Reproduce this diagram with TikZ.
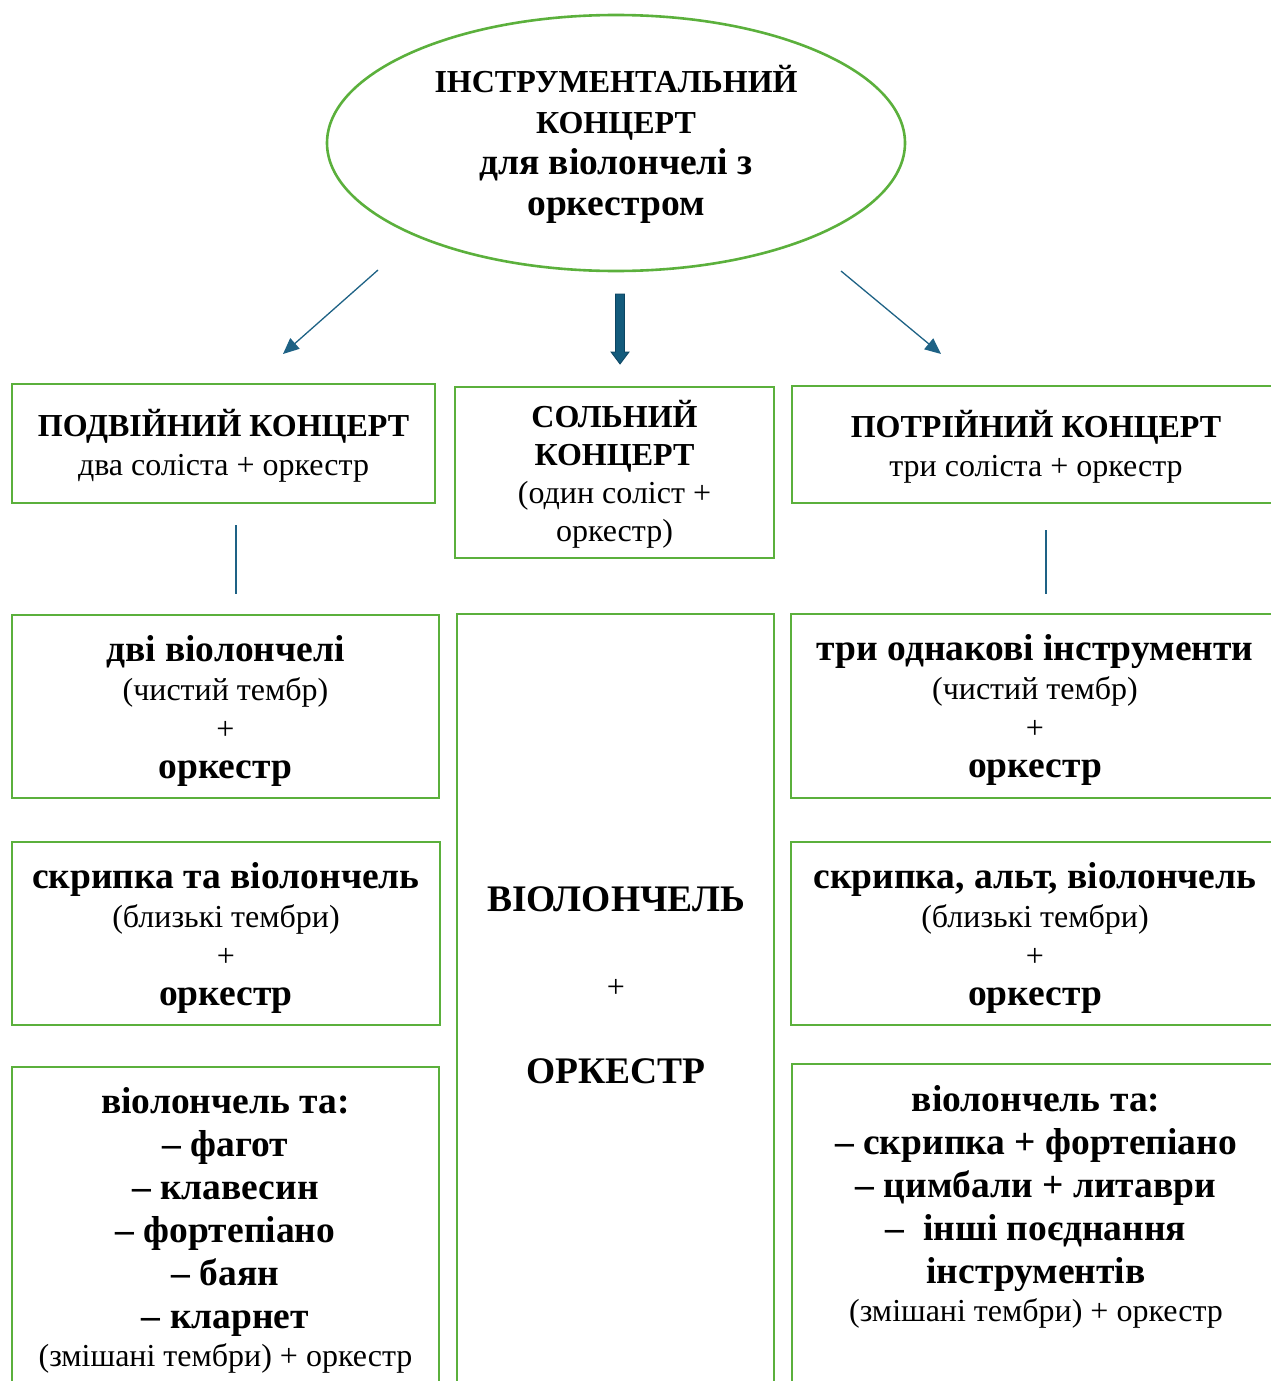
\documentclass[tikz,border=0pt]{standalone}
\usepackage{fontspec}
\setmainfont{Liberation Serif}
\usetikzlibrary{arrows.meta,shapes.geometric,calc}
\definecolor{grn}{HTML}{5BB03C}
\definecolor{arr}{HTML}{1E6285}
\definecolor{arrfill}{HTML}{135B7C}
\definecolor{arrdark}{HTML}{0C4461}
\lineskiplimit=-30pt
\begin{document}
\begin{tikzpicture}[x=1pt,y=-1pt,
  box/.style={draw=grn,line width=2.6pt,rectangle,inner sep=0pt},
  txt/.style={align=center,inner sep=0pt},
  thinarrow/.style={draw=arr,line width=1.3pt,-{Triangle[length=16pt,width=14pt]}},
  vline/.style={draw=arr,line width=1.3pt},
  fa/.style={font=\fontsize{32}{39}\selectfont}
]
\newcommand{\bigb}[1]{{\fontsize{37.5}{39}\selectfont\bfseries #1}}
\newcommand{\bige}[1]{{\fontsize{37.5}{41}\selectfont\bfseries #1}}
\useasboundingbox (0,0) rectangle (1271,1381);
\clip (0,0) rectangle (1271,1381);

% ellipse
\node[ellipse,draw=grn,line width=2.6pt,minimum width=578pt,minimum height=256pt,inner sep=0pt] (top) at (616,143) {};
\node[txt,font=\fontsize{32}{41}\selectfont\bfseries] (topt) at ($(top.center)+(0,1)$)
  {ІНСТРУМЕНТАЛЬНИЙ\\КОНЦЕРТ\\\bige{для віолончелі з}\\\bige{оркестром}};

% top row boxes
\node[box,minimum width=423pt,minimum height=119pt] (b1) at (223.5,443.5) {};
\node[txt,fa] (b1t) at ($(b1.center)+(0,2)$)
  {\textbf{ПОДВІЙНИЙ КОНЦЕРТ}\\два соліста + оркестр};
\node[box,minimum width=319pt,minimum height=171pt] (b2) at (614.5,472.5) {};
\node[txt,fa] (b2t) at ($(b2.center)+(0,2)$)
  {\textbf{СОЛЬНИЙ}\\[-1pt]\textbf{КОНЦЕРТ}\\[-1pt](один соліст +\\[-1pt]оркестр)};
\node[box,minimum width=488pt,minimum height=117pt] (b3) at (1036,444.5) {};
\node[txt,fa] (b3t) at ($(b3.center)+(0,2)$)
  {\textbf{ПОТРІЙНИЙ КОНЦЕРТ}\\три соліста + оркестр};

% arrows
\coordinate (la1) at (378,270);
\coordinate (la2) at (283,354);
\coordinate (ra1) at (841,271);
\coordinate (ra2) at (941,354);
\coordinate (ma) at (620,294);
\coordinate (mb) at (620,364);
\draw[thinarrow] (la1) -- (la2);
\draw[thinarrow] (ra1) -- (ra2);
\draw[draw=arrdark,fill=arrfill,line width=0.8pt,line join=miter]
  ($(ma)+(-4.5,0)$) -- ($(ma)+(4.5,0)$) -- ($(mb)+(4.5,-12)$) -- ($(mb)+(9,-12)$) --
  (mb) -- ($(mb)+(-9,-12)$) -- ($(mb)+(-4.5,-12)$) -- cycle;

% vertical lines
\coordinate (lv1) at (236,525);
\coordinate (lv2) at (236,594);
\coordinate (rv1) at (1046,530);
\coordinate (rv2) at (1046,594);
\draw[vline] (lv1) -- (lv2);
\draw[vline] (rv1) -- (rv2);

% second row
\node[box,minimum width=427pt,minimum height=183pt] (l2) at (225.5,706.5) {};
\node[txt,fa] (l2t) at ($(l2.center)+(0,4)$)
  {\bigb{дві віолончелі}\\(чистий тембр)\\+\\\bigb{оркестр}};
\node[box,minimum width=488pt,minimum height=184pt] (r2) at (1035,706) {};
\node[txt,fa] (r2t) at ($(r2.center)+(0,4)$)
  {\bigb{три однакові інструменти}\\(чистий тембр)\\+\\\bigb{оркестр}};

% third row
\node[box,minimum width=428pt,minimum height=183pt] (l3) at (226,933.5) {};
\node[txt,fa] (l3t) at ($(l3.center)+(0,4)$)
  {\bigb{скрипка та віолончель}\\(близькі тембри)\\+\\\bigb{оркестр}};
\node[box,minimum width=488pt,minimum height=183pt] (r3) at (1035,933.5) {};
\node[txt,fa] (r3t) at ($(r3.center)+(0,4)$)
  {\bigb{скрипка, альт, віолончель}\\(близькі тембри)\\+\\\bigb{оркестр}};

% middle column
\node[box,minimum width=317pt,minimum height=806pt] (mid) at (615.5,1017) {};
\node[txt,font=\fontsize{37.5}{86}\selectfont] (midt) at (616,985)
  {\textbf{ВІОЛОНЧЕЛЬ}\\{\fontsize{32}{86}\selectfont +}\\\textbf{ОРКЕСТР}};

% fourth row
\node[box,minimum width=427pt,minimum height=324pt] (l4) at (225.5,1229) {};
\node[txt,font=\fontsize{37.5}{43}\selectfont\bfseries] (l4t) at (225.5,1230)
  {віолончель та:\\– фагот\\– клавесин\\– фортепіано\\– баян\\– кларнет\\[-5pt]{\normalfont\fontsize{32}{43}\selectfont(змішані тембри) + оркестр}};
\node[box,minimum width=488pt,minimum height=356pt] (r4) at (1036,1242) {};
\node[txt,font=\fontsize{37.5}{43}\selectfont\bfseries] (r4t) at (1036,1207)
  {віолончель та:\\– скрипка + фортепіано\\– цимбали + литаври\\–\ \ інші поєднання\\інструментів\\[-5pt]{\normalfont\fontsize{32}{43}\selectfont(змішані тембри) + оркестр}};
\end{tikzpicture}
\end{document}
